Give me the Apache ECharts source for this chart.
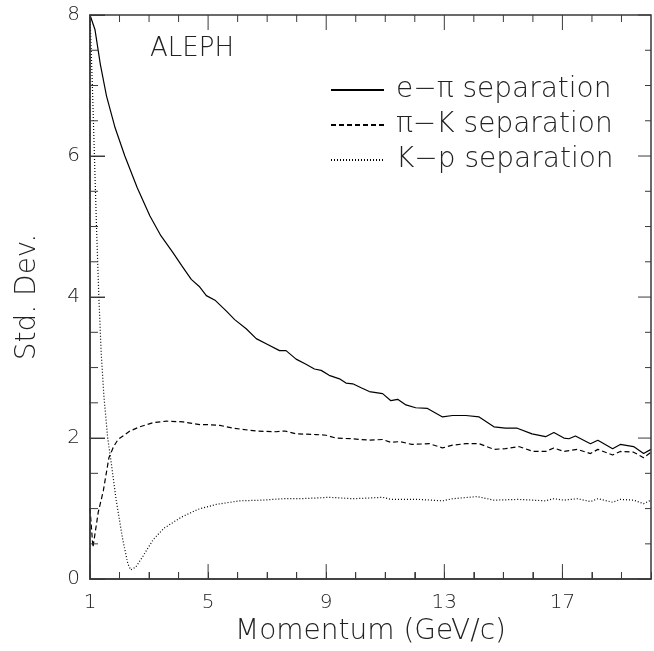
<!DOCTYPE html>
<html>
<head>
<meta charset="utf-8">
<script src="https://cdn.jsdelivr.net/npm/echarts@6/dist/echarts.min.js"></script>
<style>html,body{margin:0;padding:0;background:#fff}#c{width:654px;height:651px}</style>
</head>
<body>
<div id="c"></div>
<script>
// ---- data ----
const ePiX = [1.0,1.17,1.35,1.56,1.85,2.18,2.6,3.03,3.4,3.81,4.1,4.43,4.7,4.94,5.25,5.62,5.9,6.29,6.63,7.0,7.42,7.64,7.98,8.3,8.6,8.83,9.1,9.45,9.67,9.9,10.2,10.46,10.91,11.19,11.42,11.7,12.03,12.43,12.94,13.28,13.73,14.18,14.68,15.07,15.47,15.97,16.43,16.71,17.05,17.22,17.44,17.95,18.2,18.7,18.96,19.41,19.75,20.0];
const ePiY = [8.0,7.79,7.3,6.85,6.4,6.0,5.55,5.15,4.87,4.63,4.45,4.25,4.15,4.02,3.95,3.80,3.68,3.55,3.41,3.33,3.24,3.24,3.12,3.05,2.98,2.96,2.89,2.84,2.78,2.77,2.71,2.66,2.63,2.53,2.55,2.47,2.43,2.42,2.30,2.32,2.32,2.30,2.16,2.14,2.14,2.06,2.02,2.08,2.00,1.99,2.03,1.92,1.97,1.85,1.91,1.88,1.78,1.84];

const piKX = [1.0,1.1,1.28,1.45,1.64,1.8,1.95,2.35,2.69,3.14,3.59,4.15,4.72,5.05,5.4,5.84,6.63,7.3,7.6,7.98,8.66,9.0,9.33,9.9,10.46,10.91,11.19,11.5,11.9,12.5,12.94,13.28,13.73,14.18,14.68,15.07,15.52,16.02,16.43,16.71,17.05,17.5,17.95,18.2,18.7,18.96,19.41,19.75,20.0];
const piKY = [1.0,0.45,0.95,1.25,1.72,1.88,1.98,2.10,2.16,2.22,2.24,2.23,2.19,2.19,2.18,2.14,2.10,2.09,2.10,2.06,2.05,2.04,2.00,1.99,1.97,1.98,1.94,1.95,1.91,1.92,1.86,1.90,1.92,1.92,1.84,1.85,1.88,1.81,1.81,1.86,1.81,1.84,1.78,1.84,1.76,1.81,1.80,1.72,1.80];

const kPX = [1.0,1.08,1.15,1.22,1.30,1.38,1.47,1.6,1.7,1.88,2.1,2.28,2.38,2.55,2.8,3.14,3.5,4.1,4.66,5.28,6.07,6.85,7.53,8.09,8.66,9.11,9.9,10.46,10.91,11.19,12.14,12.94,13.28,14.12,14.68,15.52,16.43,16.71,17.05,17.5,17.95,18.2,18.7,18.96,19.41,19.75,20.0];
const kPY = [8.0,7.0,6.0,5.0,4.0,3.2,2.6,2.0,1.71,1.14,0.58,0.22,0.13,0.17,0.33,0.56,0.72,0.88,0.99,1.06,1.11,1.12,1.14,1.14,1.15,1.16,1.14,1.15,1.16,1.13,1.13,1.11,1.14,1.17,1.12,1.13,1.11,1.14,1.12,1.14,1.10,1.14,1.09,1.13,1.12,1.07,1.12];

const seriesNames = ['e\u2212\u03c0 separation', '\u03c0\u2212K separation', 'K\u2212p separation'];
const xMajorTicks = [1,5,9,13,17];
const xMinorTicks = [2,3,4,6,7,8,10,11,12,14,15,16,18,19];
const yMajorTicks = [0,2,4,6,8];
const yMinorTicks = [0.5,1,1.5,2.5,3,3.5,4.5,5,5.5,6.5,7,7.5];
const xTitle = 'Momentum (GeV/c)';
const yTitle = 'Std. Dev.';
const label = 'ALEPH';

// ---- chart ----
const FONT = '"DejaVu Sans", sans-serif';
const TXT = '#222';
const AX = '#3a3a3a';
const X0 = 1, X1 = 20, Y0 = 0, Y1 = 8;
const zip = (xs, ys) => xs.map((x, i) => [x, ys[i]]);
const txt = (size) => ({ fontSize: size, color: TXT, fontFamily: FONT, fontWeight: 200 });

const chart = echarts.init(document.getElementById('c'));
chart.setOption({
  animation: false,
  grid: { left: 90, right: 1, top: 15, bottom: 71, containLabel: false },
  title: { text: label, left: 145, top: 31, textStyle: txt(26) },
  legend: {
    orient: 'vertical', left: 330, top: 76, itemGap: 7, padding: 0,
    itemWidth: 53, itemHeight: 12,
    data: seriesNames,
    itemStyle: { opacity: 0 },
    textStyle: Object.assign({ padding: [0, 0, 0, 7] }, txt(28))
  },
  xAxis: {
    type: 'value', min: X0, max: X1, interval: 1,
    axisLine: { show: true, onZero: false, lineStyle: { color: AX, width: 1.5 } },
    axisTick: { show: true, inside: true, length: 7, lineStyle: { color: AX, width: 1 } },
    axisLabel: Object.assign({ show: true, margin: 14,
      formatter: v => (xMajorTicks.indexOf(v) >= 0 ? String(v) : '') }, txt(20)),
    splitLine: { show: false },
    name: xTitle, nameLocation: 'middle', nameGap: 32, nameTextStyle: txt(28)
  },
  yAxis: {
    type: 'value', min: Y0, max: Y1, interval: 2,
    axisLine: { show: true, onZero: false, lineStyle: { color: AX, width: 1.5 } },
    axisTick: { show: true, inside: true, length: 15, lineStyle: { color: AX, width: 1 } },
    axisLabel: Object.assign({ show: true, margin: 10 }, txt(20)),
    splitLine: { show: false },
    name: yTitle, nameLocation: 'middle', nameGap: 48, nameRotate: 90, nameTextStyle: txt(28)
  },
  series: [
    { name: seriesNames[0], type: 'line', data: zip(ePiX, ePiY), symbol: 'none',
      lineStyle: { color: '#000', width: 1.2, type: 'solid' }, itemStyle: { color: '#000' } },
    { name: seriesNames[1], type: 'line', data: zip(piKX, piKY), symbol: 'none',
      lineStyle: { color: '#000', width: 1.2, type: [5, 3] }, itemStyle: { color: '#000' } },
    { name: seriesNames[2], type: 'line', data: zip(kPX, kPY), symbol: 'none',
      lineStyle: { color: '#000', width: 1.2, type: [1, 2] }, itemStyle: { color: '#000' } }
  ]
});

// frame and tick marks, positioned through the chart's own scales
const px = (x, y) => chart.convertToPixel({ gridIndex: 0 }, [x, y]);
const gfx = [];
const seg = (a, b, w) => gfx.push({ type: 'line', z: 50, silent: true,
  shape: { x1: a[0], y1: a[1], x2: b[0], y2: b[1] }, style: { stroke: AX, lineWidth: w } });
const bl = px(X0, Y0), tr = px(X1, Y1);
gfx.push({ type: 'rect', z: 50, silent: true,
  shape: { x: bl[0], y: tr[1], width: tr[0] - bl[0], height: bl[1] - tr[1] },
  style: { fill: null, stroke: AX, lineWidth: 1.5 } });
xMajorTicks.concat(xMinorTicks).forEach(v => {
  const len = xMajorTicks.indexOf(v) >= 0 ? 15 : 7;
  const b = px(v, Y0), t = px(v, Y1);
  seg(b, [b[0], b[1] - len], 1);
  seg(t, [t[0], t[1] + len], 1);
});
yMajorTicks.concat(yMinorTicks).forEach(v => {
  const major = yMajorTicks.indexOf(v) >= 0;
  const l = px(X0, v), r = px(X1, v);
  seg(l, [l[0] + (major ? 15 : 8), l[1]], 1);
  seg(r, [r[0] - (major ? 13 : 6), r[1]], 1);
});
chart.setOption({ graphic: { elements: gfx } });
</script>
</body>
</html>
